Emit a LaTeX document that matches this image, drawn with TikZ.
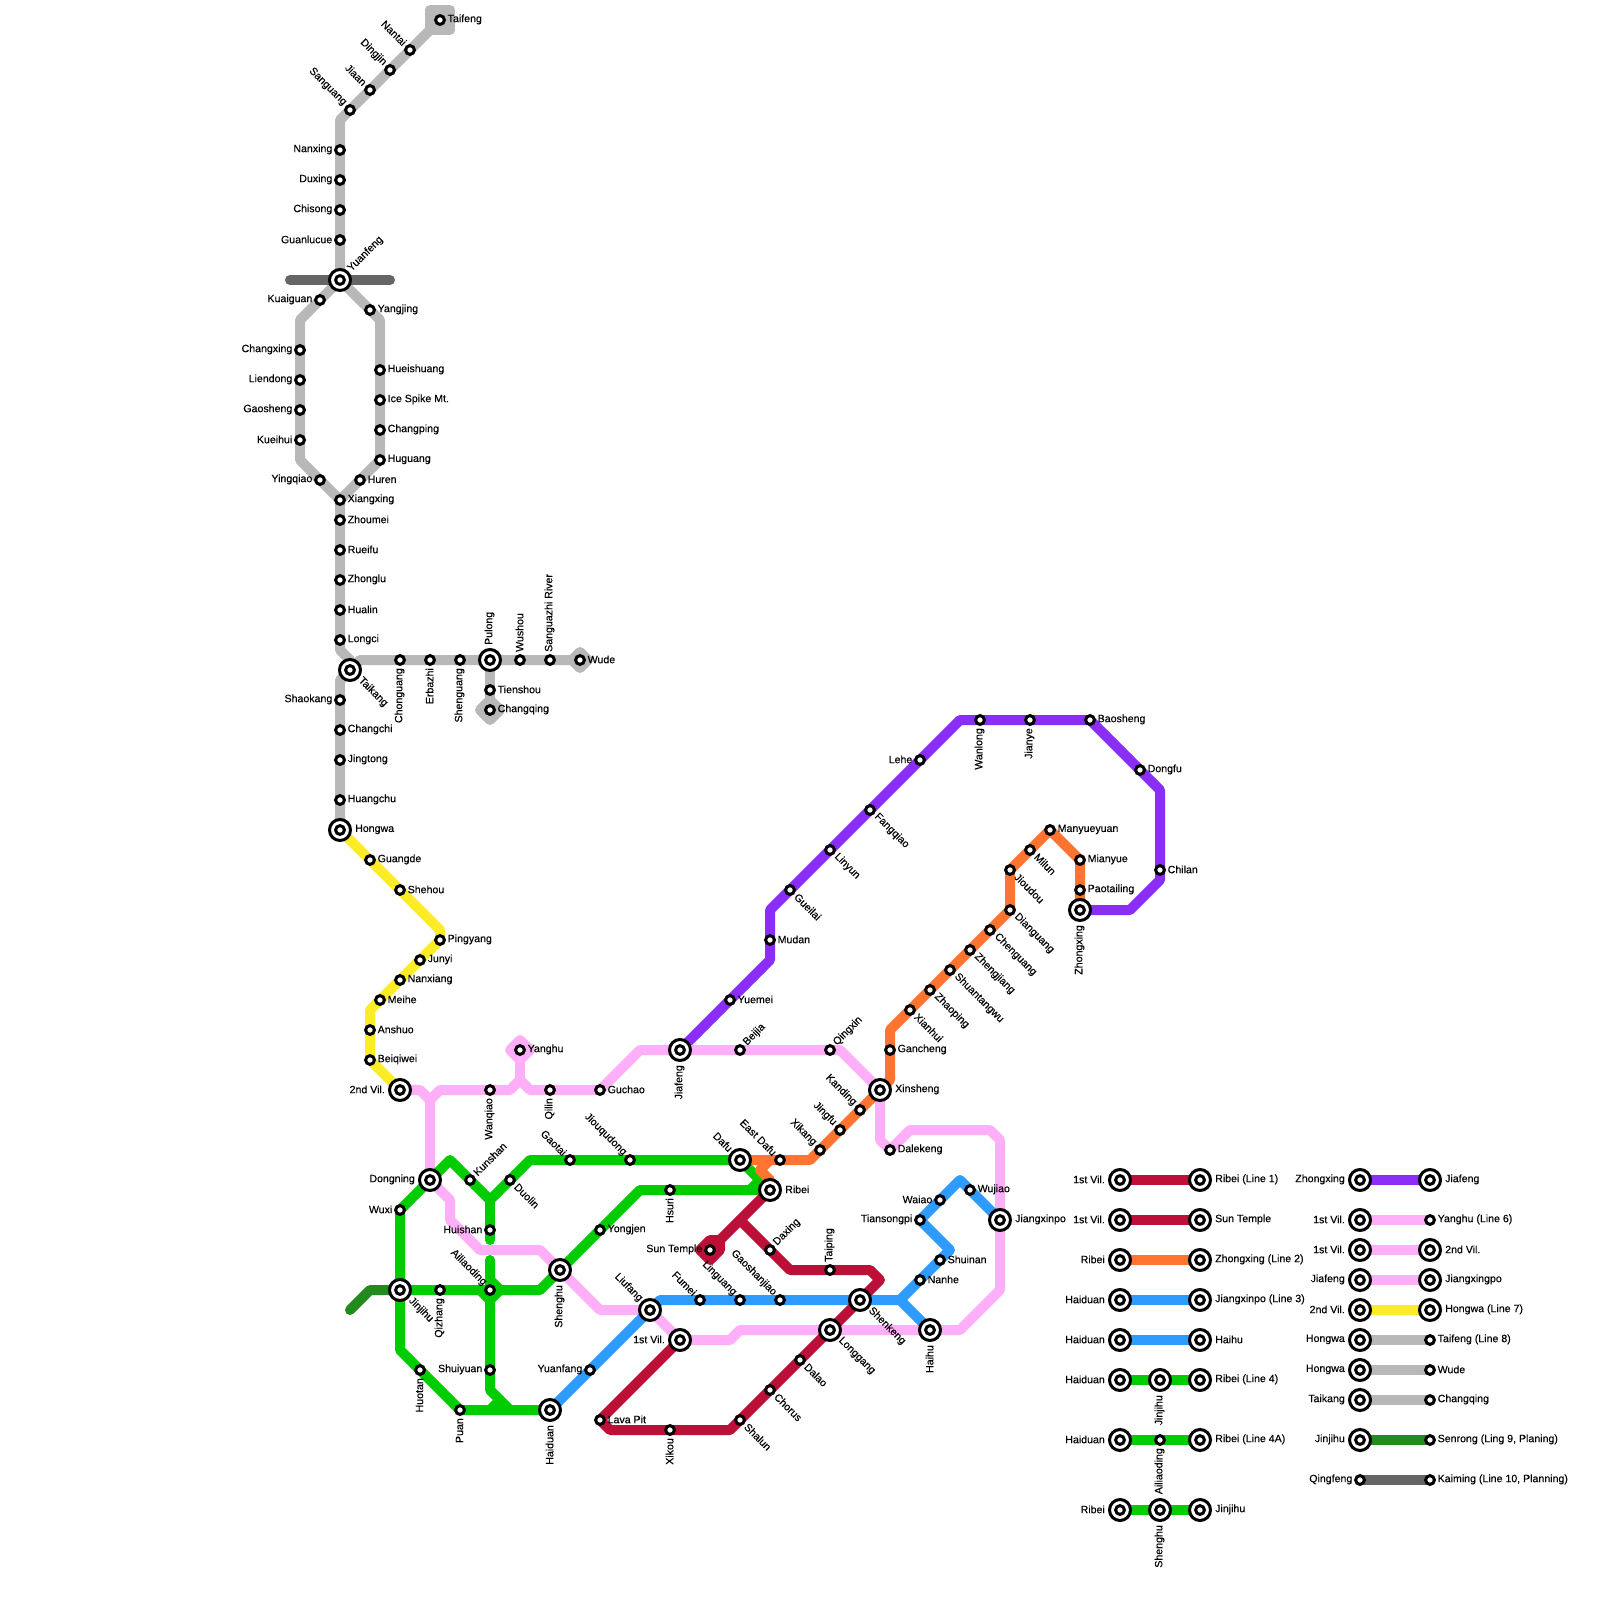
\documentclass[tikz,border=0pt]{standalone}
\usepackage{fontspec}
\setmainfont{Liberation Sans}[BoldFont={Liberation Sans},BoldFeatures={FakeBold=0.25}]
\usetikzlibrary{backgrounds}
\definecolor{lineRed}{HTML}{BD1038}
\definecolor{lineOrange}{HTML}{FF7430}
\definecolor{lineBlue}{HTML}{2E9BFF}
\definecolor{lineGreen}{HTML}{00CC00}
\definecolor{linePink}{HTML}{FFAEF8}
\definecolor{linePurple}{HTML}{8B2EF5}
\definecolor{lineYellow}{HTML}{FCEC27}
\definecolor{lineGrey}{HTML}{B8B8B8}
\definecolor{lineDark}{HTML}{656565}
\definecolor{lineForest}{HTML}{228B1E}
\begin{document}
\begin{tikzpicture}[
        x=1pt, y=-1pt,
        font=\fontsize{10.6}{12}\selectfont\bfseries,
        route/.style={line width=10pt, line join=round, line cap=round},
        stop/.style={circle, draw, fill=white, line width=3pt, outer sep=0pt, minimum size=8.8pt, inner sep=0pt},
        hub/.style={circle, draw, fill=white, line width=3pt, outer sep=0pt, minimum size=21pt, inner sep=0pt},
        E/.style={inner sep=0pt, anchor=west, xshift=7.5pt, yshift=0.6pt},
        W/.style={inner sep=0pt, anchor=east, xshift=-7.5pt, yshift=0.6pt},
        N/.style={inner sep=0pt, xshift=-0.5pt, yshift=8pt, rotate=90, anchor=west},
        S/.style={inner sep=0pt, xshift=-0.5pt, yshift=-8pt, rotate=90, anchor=east},
        NE/.style={inner sep=0pt, xshift=5pt, yshift=6pt, rotate=45, anchor=west},
        SE/.style={inner sep=0pt, xshift=6pt, yshift=-5pt, rotate=-45, anchor=west},
        NW/.style={inner sep=0pt, xshift=-5pt, yshift=6pt, rotate=-45, anchor=east},
        hubE/.style={inner sep=0pt, anchor=west, xshift=15pt, yshift=0.6pt},
        hubW/.style={inner sep=0pt, anchor=east, xshift=-15pt, yshift=0.6pt},
        hubS/.style={inner sep=0pt, xshift=-0.5pt, yshift=-15pt, rotate=90, anchor=east},
        hubN/.style={inner sep=0pt, xshift=-0.5pt, yshift=15pt, rotate=90, anchor=west},
        hubNE/.style={inner sep=0pt, xshift=9.5pt, yshift=10pt, rotate=45, anchor=west},
        hubSE/.style={inner sep=0pt, xshift=10pt, yshift=-9pt, rotate=-45, anchor=west},
        hubNW/.style={inner sep=0pt, xshift=-9pt, yshift=10pt, rotate=-45, anchor=east}
    ]
    \useasboundingbox (0,0) rectangle (1600,1600);

    % plain stops
    \foreach \id/\x/\y/\side/\txt in {
        taifeng/440/20/E/Taifeng, nantai/410/50/NW/Nantai, dingjin/390/70/NW/Dingjin,
        jiaan/370/90/NW/Jiaan, sanguang/350/110/NW/Sanguang, nanxing/340/150/W/Nanxing,
        duxing/340/180/W/Duxing, chisong/340/210/W/Chisong, guanlucue/340/240/W/Guanlucue,
        kuaiguan/320/300/W/Kuaiguan, changxing/300/350/W/Changxing, liendong/300/380/W/Liendong,
        gaosheng/300/410/W/Gaosheng, kueihui/300/440/W/Kueihui, yingqiao/320/480/W/Yingqiao,
        yangjing/370/310/E/Yangjing, hueishuang/380/370/E/Hueishuang, icespike/380/400/E/Ice Spike Mt.,
        changping/380/430/E/Changping, huguang/380/460/E/Huguang, huren/360/480/E/Huren,
        xiangxing/340/500/E/Xiangxing, zhoumei/340/520/E/Zhoumei, rueifu/340/550/E/Rueifu,
        zhonglu/340/580/E/Zhonglu, hualin/340/610/E/Hualin, longci/340/640/E/Longci,
        chonguang/400/660/S/Chonguang, erbazhi/430/660/S/Erbazhi, shenguang/460/660/S/Shenguang,
        wushou/520/660/N/Wushou, sanguazhi/550/660/N/Sanguazhi River, wude/580/660/E/Wude,
        tienshou/490/690/E/Tienshou, changqing/490/710/E/Changqing, shaokang/340/700/W/Shaokang,
        changchi/340/730/E/Changchi, jingtong/340/760/E/Jingtong, huangchu/340/800/E/Huangchu,
        guangde/370/860/E/Guangde, shehou/400/890/E/Shehou, pingyang/440/940/E/Pingyang,
        junyi/420/960/E/Junyi, nanxiang/400/980/E/Nanxiang, meihe/380/1000/E/Meihe,
        anshuo/370/1030/E/Anshuo, beiqiwei/370/1060/E/Beiqiwei, wanqiao/490/1090/S/Wanqiao,
        yanghu/520/1050/E/Yanghu, qilin/550/1090/S/Qilin, guchao/600/1090/E/Guchao,
        wuxi/400/1210/W/Wuxi, kunshan/470/1180/NE/Kunshan, duolin/510/1180/SE/Duolin,
        huishan/490/1230/W/Huishan, ailiaoding/490/1290/NW/Ailiaoding, qizhang/440/1290/S/Qizhang,
        gaotai/570/1160/NW/Gaotai, jiouqudong/630/1160/NW/Jiouqudong, hsuri/670/1190/S/Hsuri,
        yongjen/600/1230/E/Yongjen, huotan/420/1370/S/Huotan, puan/460/1410/S/Puan,
        shuiyuan/490/1370/W/Shuiyuan, yuanfang/590/1370/W/Yuanfang, lavapit/600/1420/E/Lava Pit,
        xikou/670/1430/S/Xikou, shalun/740/1420/SE/Shalun, chorus/770/1390/SE/Chorus,
        dalao/800/1360/SE/Dalao, suntemple/710/1250/W/Sun Temple, daxing/770/1250/NE/Daxing,
        taiping/830/1270/N/Taiping, fumei/700/1300/NW/Fumei, linguang/740/1300/NW/Linguang,
        gaoshanjiao/780/1300/NW/Gaoshanjiao, nanhe/920/1280/E/Nanhe, shuinan/940/1260/E/Shuinan,
        tiansongpi/920/1220/W/Tiansongpi, waiao/940/1200/W/Waiao, wujiao/970/1190/E/Wujiao,
        dalekeng/890/1150/E/Dalekeng, eastdafu/780/1160/NW/East Dafu, xikang/820/1150/NW/Xikang,
        jingfu/840/1130/NW/Jingfu, kanding/860/1110/NW/Kanding, gancheng/890/1050/E/Gancheng,
        xianhui/910/1010/SE/Xianhui, zhaoping/930/990/SE/Zhaoping, shuantangwu/950/970/SE/Shuantangwu,
        zhengjiang/970/950/SE/Zhengjiang, chenguang/990/930/SE/Chenguang, dianguang/1010/910/SE/Dianguang,
        jioudou/1010/870/SE/Jioudou, milun/1030/850/SE/Milun, manyueyuan/1050/830/E/Manyueyuan,
        mianyue/1080/860/E/Mianyue, paotailing/1080/890/E/Paotailing, beijia/740/1050/NE/Beijia,
        qingxin/830/1050/NE/Qingxin, yuemei/730/1000/E/Yuemei, mudan/770/940/E/Mudan,
        gueilai/790/890/SE/Gueilai, linyun/830/850/SE/Linyun, fangqiao/870/810/SE/Fangqiao,
        lehe/920/760/W/Lehe, wanlong/980/720/S/Wanlong, jianye/1030/720/S/Jianye,
        baosheng/1090/720/E/Baosheng, dongfu/1140/770/E/Dongfu, chilan/1160/870/E/Chilan,
        keyAiliaoding/1160/1440/S/Ailiaoding, keyYanghu/1430/1220/E/Yanghu (Line 6),
        keyTaifeng/1430/1340/E/Taifeng (Line 8), keyWude/1430/1370/E/Wude,
        keyChangqing/1430/1400/E/Changqing, keySenrong/1430/1440/E/{Senrong (Ling 9, Planing)},
        keyQingfeng/1360/1480/W/Qingfeng, keyKaiming/1430/1480/E/{Kaiming (Line 10, Planning)}} {
        \node[stop] (\id) at (\x,\y) {};
        \node[\side] (\id text) at (\x,\y) {\txt};
    }

    % interchanges
    \foreach \id/\x/\y/\side/\txt in {
        yuanfeng/340/280/NE/Yuanfeng, taikang/350/670/SE/Taikang, pulong/490/660/N/Pulong,
        hongwa/340/830/E/Hongwa, villageTwo/400/1090/W/2nd Vil., dongning/430/1180/W/Dongning,
        jinjihu/400/1290/SE/Jinjihu, shenghu/560/1270/S/Shenghu, haiduan/550/1410/S/Haiduan,
        liufang/650/1310/NW/Liufang, villageOne/680/1340/W/1st Vil., jiafeng/680/1050/S/Jiafeng,
        dafu/740/1160/NW/Dafu, ribei/770/1190/E/Ribei, xinsheng/880/1090/E/Xinsheng,
        shenkeng/860/1300/SE/Shenkeng, longgang/830/1330/SE/Longgang, haihu/930/1330/S/Haihu,
        jiangxinpo/1000/1220/E/Jiangxinpo, zhongxing/1080/910/S/Zhongxing,
        keyRedA/1120/1180/W/1st Vil., keyRedB/1200/1180/E/Ribei (Line 1),
        keyRedC/1120/1220/W/1st Vil., keyRedD/1200/1220/E/Sun Temple,
        keyOrangeA/1120/1260/W/Ribei, keyOrangeB/1200/1260/E/Zhongxing (Line 2),
        keyBlueA/1120/1300/W/Haiduan, keyBlueB/1200/1300/E/Jiangxinpo (Line 3),
        keyBlueC/1120/1340/W/Haiduan, keyBlueD/1200/1340/E/Haihu,
        keyGreenA/1120/1380/W/Haiduan, keyGreenB/1160/1380/S/Jinjihu, keyGreenC/1200/1380/E/Ribei (Line 4),
        keyGreenD/1120/1440/W/Haiduan, keyGreenE/1200/1440/E/Ribei (Line 4A),
        keyGreenF/1120/1510/W/Ribei, keyGreenG/1160/1510/S/Shenghu, keyGreenH/1200/1510/E/Jinjihu,
        keyPurpleA/1360/1180/W/Zhongxing, keyPurpleB/1430/1180/E/Jiafeng,
        keyPinkA/1360/1220/W/1st Vil., keyPinkB/1360/1250/W/1st Vil., keyPinkC/1430/1250/E/2nd Vil.,
        keyPinkD/1360/1280/W/Jiafeng, keyPinkE/1430/1280/E/Jiangxingpo,
        keyYellowA/1360/1310/W/2nd Vil., keyYellowB/1430/1310/E/Hongwa (Line 7),
        keyGreyA/1360/1340/W/Hongwa, keyGreyB/1360/1370/W/Hongwa, keyGreyC/1360/1400/W/Taikang,
        keyForestA/1360/1440/W/Jinjihu} {
        \node[hub] (\id) at (\x,\y) {};
        \node[stop] (\id core) at (\x,\y) {};
        \node[hub\side] (\id text) at (\x,\y) {\txt};
    }

    \coordinate (darkWest) at (290,280);
    \coordinate (darkEast) at (390,280);
    \coordinate (forestEnd) at (350,1310);
    \coordinate (greenGapTop) at (490,1240);
    \coordinate (greenGapBottom) at (490,1260);

    \begin{pgfonlayer}{background}
        % line 8
        \draw[route, lineGrey, fill=lineGrey] (430,10) -- (450,10) -- (450,30) -- (430,30) -- cycle;
        \draw[route, lineGrey] (430,30) -- (nantai.center) -- (dingjin.center) -- (jiaan.center)
            -- (sanguang.center) -- (340,120) -- (nanxing.center) -- (yuanfeng.center);
        \draw[route, lineGrey] (yuanfeng.center) -- (kuaiguan.center) -- (300,320) -- (kueihui.center)
            -- (300,460) -- (yingqiao.center) -- (xiangxing.center);
        \draw[route, lineGrey] (yuanfeng.center) -- (yangjing.center) -- (380,320) -- (huguang.center)
            -- (huren.center) -- (xiangxing.center);
        \draw[route, lineGrey] (xiangxing.center) -- (340,650) -- (350,660) -- (taikang.center) -- (340,680) -- (hongwa.center);
        \draw[route, lineGrey] (taikang.center) -- (360,660) -- (pulong.center) -- (wude.center);
        \draw[route, lineGrey, fill=lineGrey] (572,660) -- (580,652) -- (588,660) -- (580,668) -- cycle;
        \draw[route, lineGrey] (pulong.center) -- (tienshou.center) -- (490,700);
        \draw[route, lineGrey, fill=lineGrey] (480,710) -- (490,700) -- (500,710) -- (490,720) -- cycle;
        % line 10, line 9
        \draw[route, lineDark] (darkWest) -- (yuanfeng.center) -- (darkEast);
        \draw[route, lineForest] (jinjihu.center) -- (370,1290) -- (forestEnd);
        % line 7
        \draw[route, lineYellow] (hongwa.center) -- (guangde.center) -- (shehou.center) -- (440,930)
            -- (pingyang.center) -- (junyi.center) -- (nanxiang.center) -- (meihe.center) -- (370,1010)
            -- (anshuo.center) -- (beiqiwei.center) -- (villageTwo.center);
        % line 5
        \draw[route, linePurple] (jiafeng.center) -- (yuemei.center) -- (770,960) -- (mudan.center)
            -- (770,910) -- (gueilai.center) -- (linyun.center) -- (fangqiao.center) -- (lehe.center)
            -- (960,720) -- (wanlong.center) -- (jianye.center) -- (baosheng.center) -- (dongfu.center)
            -- (1160,790) -- (chilan.center) -- (1160,880) -- (1130,910) -- (zhongxing.center);
        % line 6
        \draw[route, linePink] (villageTwo.center) -- (420,1090) -- (430,1100) -- (dongning.center);
        \draw[route, linePink] (430,1100) -- (440,1090) -- (wanqiao.center) -- (510,1090) -- (520,1080)
            -- (530,1090) -- (qilin.center) -- (guchao.center) -- (640,1050) -- (jiafeng.center)
            -- (beijia.center) -- (qingxin.center) -- (840,1050) -- (xinsheng.center) -- (880,1140)
            -- (dalekeng.center) -- (910,1130) -- (990,1130) -- (1000,1140) -- (jiangxinpo.center)
            -- (1000,1290) -- (960,1330) -- (haihu.center) -- (longgang.center) -- (740,1330)
            -- (730,1340) -- (villageOne.center) -- (liufang.center) -- (600,1310) -- (shenghu.center)
            -- (540,1250) -- (480,1250) -- (450,1220) -- (450,1200) -- (dongning.center);
        \draw[route, linePink] (520,1080) -- (520,1060);
        \draw[route, linePink, fill=linePink] (510,1050) -- (520,1040) -- (530,1050) -- (520,1060) -- cycle;
        % line 4
        \draw[route, lineGreen] (dongning.center) -- (wuxi.center) -- (jinjihu.center) -- (400,1350)
            -- (huotan.center) -- (puan.center) -- (haiduan.center);
        \draw[route, lineGreen] (dongning.center) -- (450,1160) -- (kunshan.center) -- (490,1200)
            -- (duolin.center) -- (530,1160) -- (gaotai.center) -- (jiouqudong.center) -- (dafu.center)
            -- (760,1180) -- (750,1190) -- (hsuri.center) -- (640,1190) -- (yongjen.center)
            -- (shenghu.center) -- (540,1290) -- (ailiaoding.center) -- (qizhang.center) -- (jinjihu.center);
        \draw[route, lineGreen] (750,1190) -- (ribei.center);
        \draw[route, lineGreen] (490,1200) -- (huishan.center) -- (greenGapTop);
        \draw[route, lineGreen] (greenGapBottom) -- (ailiaoding.center) -- (shuiyuan.center) -- (490,1390) -- (510,1410);
        \draw[route, lineGreen] (500,1400) -- (490,1410);
        \draw[route, lineGreen, fill=lineGreen] (490,1280) -- (500,1290) -- (490,1300) -- (480,1290);
        % line 3
        \draw[route, lineBlue] (haiduan.center) -- (yuanfang.center) -- (liufang.center) -- (660,1300)
            -- (fumei.center) -- (linguang.center) -- (gaoshanjiao.center) -- (shenkeng.center)
            -- (900,1300) -- (nanhe.center) -- (shuinan.center) -- (950,1250) -- (tiansongpi.center)
            -- (waiao.center) -- (960,1180) -- (wujiao.center) -- (jiangxinpo.center);
        \draw[route, lineBlue] (900,1300) -- (haihu.center);
        % line 2
        \draw[route, lineOrange] (dafu.center) -- (eastdafu.center) -- (810,1160) -- (xikang.center)
            -- (jingfu.center) -- (kanding.center) -- (xinsheng.center) -- (890,1080) -- (gancheng.center)
            -- (890,1030) -- (xianhui.center) -- (zhaoping.center) -- (shuantangwu.center)
            -- (zhengjiang.center) -- (chenguang.center) -- (dianguang.center) -- (jioudou.center)
            -- (milun.center) -- (manyueyuan.center) -- (mianyue.center) -- (paotailing.center) -- (zhongxing.center);
        \draw[route, lineOrange] (ribei.center) -- (770,1180) -- (760,1170) -- (770,1160);
        % line 1
        \draw[route, lineRed] (ribei.center) -- (740,1220) -- (720,1240);
        \draw[route, lineRed, fill=lineRed] (720,1240) -- (710,1240) -- (700,1250) -- (710,1260) -- (720,1250) -- cycle;
        \draw[route, lineRed] (740,1220) -- (daxing.center) -- (790,1270) -- (taiping.center) -- (870,1270)
            -- (880,1280) -- (shenkeng.center) -- (longgang.center) -- (dalao.center) -- (chorus.center)
            -- (shalun.center) -- (730,1430) -- (xikou.center) -- (610,1430) -- (lavapit.center) -- (villageOne.center);
        % key
        \draw[route, lineRed] (keyRedA) -- (keyRedB);
        \draw[route, lineRed] (keyRedC) -- (keyRedD);
        \draw[route, lineOrange] (keyOrangeA) -- (keyOrangeB);
        \draw[route, lineBlue] (keyBlueA) -- (keyBlueB);
        \draw[route, lineBlue] (keyBlueC) -- (keyBlueD);
        \draw[route, lineGreen] (keyGreenA) -- (keyGreenB) -- (keyGreenC);
        \draw[route, lineGreen] (keyGreenD) -- (keyAiliaoding) -- (keyGreenE);
        \draw[route, lineGreen] (keyGreenF) -- (keyGreenG) -- (keyGreenH);
        \draw[route, linePurple] (keyPurpleA) -- (keyPurpleB);
        \draw[route, linePink] (keyPinkA) -- (keyYanghu);
        \draw[route, linePink] (keyPinkB) -- (keyPinkC);
        \draw[route, linePink] (keyPinkD) -- (keyPinkE);
        \draw[route, lineYellow] (keyYellowA) -- (keyYellowB);
        \draw[route, lineGrey] (keyGreyA) -- (keyTaifeng);
        \draw[route, lineGrey] (keyGreyB) -- (keyWude);
        \draw[route, lineGrey] (keyGreyC) -- (keyChangqing);
        \draw[route, lineForest] (keyForestA) -- (keySenrong);
        \draw[route, lineDark] (keyQingfeng) -- (keyKaiming);
    \end{pgfonlayer}
\end{tikzpicture}
\end{document}
